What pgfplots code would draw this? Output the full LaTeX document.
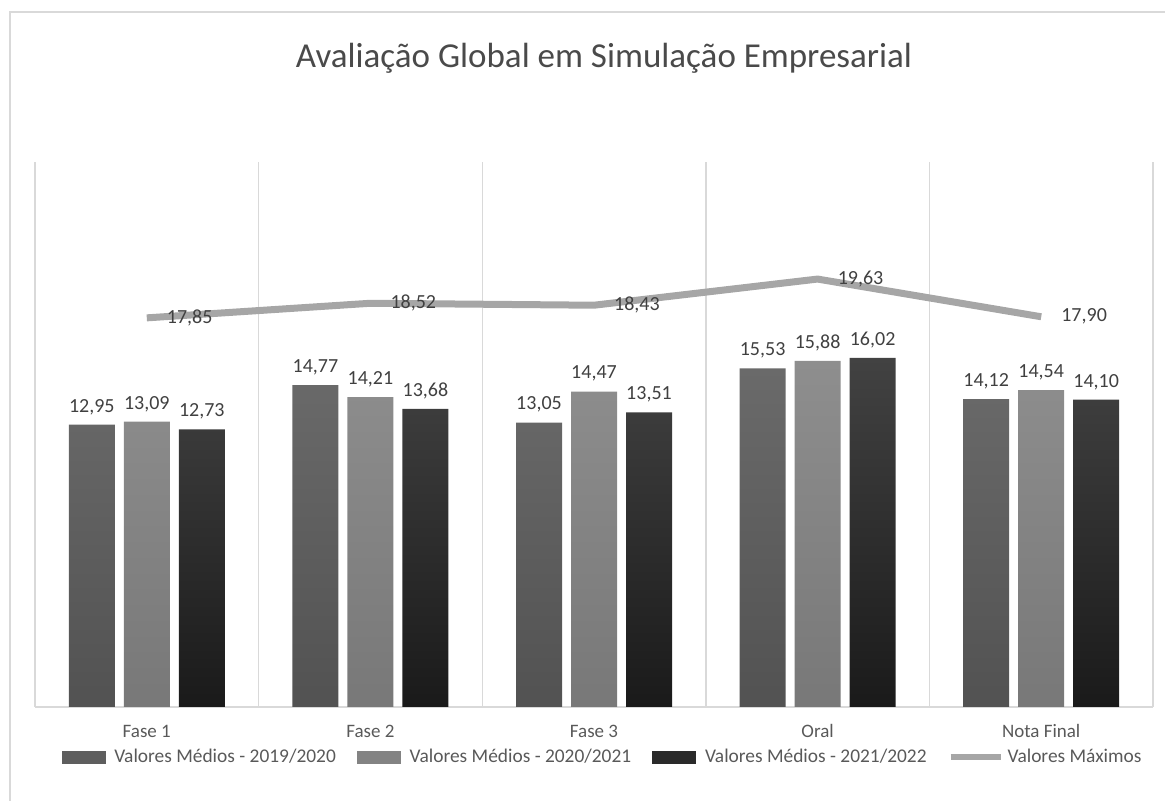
\documentclass[border=0pt]{standalone}
\usepackage{pgfplots}
\pgfplotsset{compat=1.18}
\usepackage{fontspec}
\setmainfont{Carlito}
\definecolor{framec}{HTML}{D9D9D9}
\definecolor{gridc}{HTML}{D9D9D9}
\definecolor{titlec}{HTML}{4A4A4A}
\definecolor{labc}{HTML}{595959}
\definecolor{datac}{HTML}{404040}
\definecolor{c1t}{HTML}{6A6A6A}
\definecolor{c1b}{HTML}{525252}
\definecolor{c1}{HTML}{5E5E5E}
\definecolor{c2t}{HTML}{8E8E8E}
\definecolor{c2b}{HTML}{787878}
\definecolor{c2}{HTML}{838383}
\definecolor{c3t}{HTML}{424242}
\definecolor{c3b}{HTML}{1A1A1A}
\definecolor{c3}{HTML}{2A2A2A}
\definecolor{linec}{HTML}{A6A6A6}
\pgfplotsset{
  dlab/.style={
    nodes near coords={\pgfmathprintnumber[fixed,fixed zerofill,precision=2,use comma,assume math mode=true]{\pgfplotspointmeta}},
    every node near coord/.append style={font=\fontsize{10bp}{12bp}\selectfont, text=datac, yshift=1.5bp, xshift=#1}
  }
}
\begin{document}
\begin{tikzpicture}
\path[use as bounding box] (0,0) rectangle (582.5bp,400.5bp);
\draw[framec, line width=0.7bp] (5bp,-2bp) -- (5bp,394.5bp) -- (590bp,394.5bp);
\node[font=\fontsize{17.5bp}{21bp}\selectfont, text=titlec] at (302bp,371.5bp) {Avaliação Global em Simulação Empresarial};
\begin{axis}[
  at={(17.5bp,47bp)}, anchor=south west,
  scale only axis, width=559bp, height=272.5bp,
  xmin=-0.5, xmax=4.5, ymin=0, ymax=25,
  axis y line=none, axis x line*=bottom,
  x axis line style={draw=gridc, line width=0.7bp},
  xtick={0,1,2,3,4},
  xticklabels={Fase 1, Fase 2, Fase 3, Oral, Nota Final},
  major tick length=0pt, minor tick length=0pt,
  minor xtick={-0.5,0.5,1.5,2.5,3.5,4.5},
  xminorgrids, minor grid style={draw=gridc, line width=0.7bp},
  xticklabel style={font=\fontsize{9.5bp}{11bp}\selectfont, text=labc, anchor=center, yshift=-12bp},
  clip=false,
  legend columns=4,
  legend style={at={(0.5085,-0.0917)}, anchor=center, draw=none, fill=none,
    font=\fontsize{9.7bp}{12bp}\selectfont, text=labc, inner sep=0pt,
    /tikz/every even column/.append style={column sep=8.5bp}, cells={anchor=west}},
]
\addlegendimage{legend image code/.code={\fill[c1] (0bp,-3bp) rectangle (21.5bp,3bp); \path (24bp,0bp);}}
\addlegendentry{Valores Médios - 2019/2020}
\addlegendimage{legend image code/.code={\fill[c2] (0bp,-3bp) rectangle (21.5bp,3bp); \path (24bp,0bp);}}
\addlegendentry{Valores Médios - 2020/2021}
\addlegendimage{legend image code/.code={\fill[c3] (0bp,-3bp) rectangle (21.5bp,3bp); \path (24bp,0bp);}}
\addlegendentry{Valores Médios - 2021/2022}
\addlegendimage{legend image code/.code={\draw[linec, line width=3bp] (0bp,0bp) -- (25bp,0bp); \path (26bp,0bp);}}
\addlegendentry{Valores Máximos}

\addplot[ybar, bar width=23bp, bar shift=-27.5bp, draw=none, top color=c1t, bottom color=c1b, forget plot, dlab=-27.5bp]
  coordinates {(0,12.95) (1,14.77) (2,13.05) (3,15.53) (4,14.12)};
\addplot[ybar, bar width=23bp, bar shift=0bp, draw=none, top color=c2t, bottom color=c2b, forget plot, dlab=0bp]
  coordinates {(0,13.09) (1,14.21) (2,14.47) (3,15.88) (4,14.54)};
\addplot[ybar, bar width=23bp, bar shift=27.5bp, draw=none, top color=c3t, bottom color=c3b, forget plot, dlab=27.5bp]
  coordinates {(0,12.73) (1,13.68) (2,13.51) (3,16.02) (4,14.10)};
\addplot[sharp plot, linec, line width=3.5bp, line join=round, forget plot,
  nodes near coords={\pgfmathprintnumber[fixed,fixed zerofill,precision=2,use comma,assume math mode=true]{\pgfplotspointmeta}},
  every node near coord/.style={anchor=west, xshift=5bp, font=\fontsize{10bp}{12bp}\selectfont, text=datac}]
  coordinates {(0,17.85) (1,18.52) (2,18.43) (3,19.63) (4,17.90)};
\end{axis}
\end{tikzpicture}
\end{document}
